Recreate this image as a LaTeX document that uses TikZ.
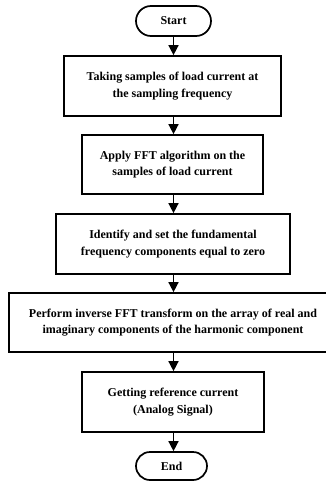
\documentclass[tikz,border=0pt]{standalone}
\usepackage{fontspec}
\setmainfont{Liberation Serif}
\usetikzlibrary{arrows.meta,shapes.misc}
\begin{document}
\begin{tikzpicture}[x=1pt,y=-1pt,
  every node/.style={font=\bfseries\fontsize{12}{16.5}\selectfont, align=center, inner sep=0pt},
  procbox/.style={draw, line width=1.7pt, rectangle},
  term/.style={draw, line width=1.7pt, rounded rectangle},
  flow/.style={line width=1.5pt, -{Triangle[width=10pt,length=10pt]}}]
\useasboundingbox (0,0) rectangle (326,482);
\clip (0,0) rectangle (326,482);
\node[term, minimum width=75pt, minimum height=30pt] (start) at (173.5,21) {Start};
\node[procbox, minimum width=217pt, minimum height=60pt] (b1) at (172.5,86) {Taking samples of load current at\\the sampling frequency};
\node[procbox, minimum width=181pt, minimum height=59pt] (b2) at (172.5,164.5) {Apply FFT algorithm on the\\samples of load current};
\node[procbox, minimum width=234pt, minimum height=60pt] (b3) at (173,244) {Identify and set the fundamental\\frequency components equal to zero};
\node[procbox, minimum width=330pt, minimum height=59pt] (b4) at (174,322.5) {};
\node at (173,322.5) {Perform inverse FFT transform on the array of real and\\imaginary components of the harmonic component};
\node[procbox, minimum width=182pt, minimum height=60pt] (b5) at (173,402) {Getting reference current\\(Analog Signal)};
\node[term, minimum width=71pt, minimum height=28pt] (end) at (171.5,466) {End};
\draw[flow] (start.south) -- (start.south |- b1.north);
\draw[flow] (b1.south -| start.south) -- (start.south |- b2.north);
\draw[flow] (b2.south -| start.south) -- (start.south |- b3.north);
\draw[flow] (b3.south -| start.south) -- (start.south |- b4.north);
\draw[flow] (b4.south -| start.south) -- (start.south |- b5.north);
\draw[flow] (b5.south -| start.south) -- (start.south |- end.north);
\end{tikzpicture}
\end{document}
